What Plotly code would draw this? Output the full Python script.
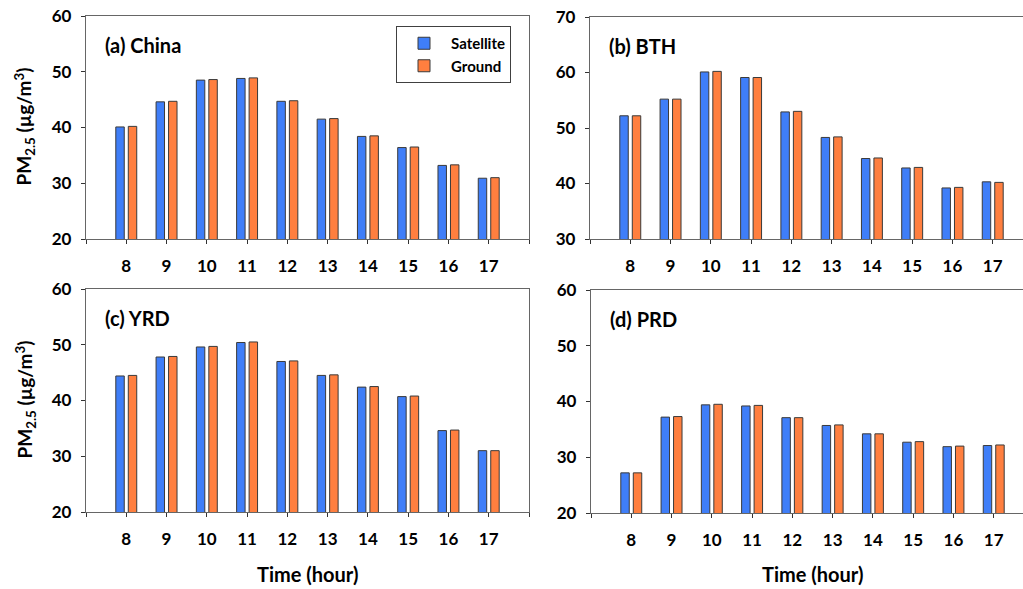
import plotly.graph_objects as go

hours = [8, 9, 10, 11, 12, 13, 14, 15, 16, 17]
tick_text = [str(h) for h in hours]

china_sat = [40.1, 44.6, 48.5, 48.8, 44.7, 41.5, 38.4, 36.4, 33.2, 30.9]
china_gnd = [40.2, 44.7, 48.6, 48.9, 44.8, 41.6, 38.5, 36.5, 33.3, 31.0]
bth_sat = [52.2, 55.2, 60.1, 59.1, 52.9, 48.3, 44.5, 42.8, 39.2, 40.3]
bth_gnd = [52.2, 55.2, 60.2, 59.1, 53.0, 48.4, 44.6, 42.9, 39.3, 40.2]
yrd_sat = [44.4, 47.8, 49.6, 50.4, 47.0, 44.5, 42.4, 40.7, 34.6, 31.0]
yrd_gnd = [44.5, 47.9, 49.7, 50.5, 47.1, 44.6, 42.5, 40.8, 34.7, 31.0]
prd_sat = [27.2, 37.2, 39.4, 39.2, 37.1, 35.7, 34.2, 32.7, 31.9, 32.1]
prd_gnd = [27.2, 37.3, 39.5, 39.3, 37.1, 35.8, 34.2, 32.8, 32.0, 32.2]

panels = [
    ("(a) China", china_sat, china_gnd, [20, 60]),
    ("(b) BTH", bth_sat, bth_gnd, [30, 70]),
    ("(c) YRD", yrd_sat, yrd_gnd, [20, 60]),
    ("(d) PRD", prd_sat, prd_gnd, [20, 60]),
]

W, H = 1023, 589
# pixel boxes: (left, right, top, bottom)
boxes = [(86, 529, 16, 239), (590, 1023, 17, 239), (86, 529, 289, 512), (591, 1023, 290, 513)]
UNIT = 443 / 11.0

BLUE = "#3F7EF8"
ORANGE = "#FF7F3F"
EDGE = "#3a3a3a"
AXIS = "#666666"
FONT = "Lato"

fig = go.Figure()
layout = dict(
    width=W, height=H, margin=dict(l=0, r=0, t=0, b=0, pad=0, autoexpand=False),
    paper_bgcolor="white", plot_bgcolor="white",
    barmode="overlay", showlegend=True,
    font=dict(family=FONT, size=16, color="black", weight="bold"),
    legend=dict(x=396 / W, y=1 - 26 / H, xanchor="left", yanchor="top",
                bordercolor="#404040", borderwidth=1, bgcolor="white",
                font=dict(family=FONT, size=15, color="black", weight="bold"),
                itemwidth=44, tracegroupgap=0),
)
annotations = []

for i, (label, sat, gnd, yr) in enumerate(panels):
    n = i + 1
    xa = "x" if n == 1 else f"x{n}"
    ya = "y" if n == 1 else f"y{n}"
    l, r, t, b = boxes[i]
    xmax = 7 + (r - l) / UNIT
    fig.add_trace(go.Bar(x=hours, y=sat, name="Satellite", xaxis=xa, yaxis=ya,
                         offset=-0.26, width=0.21, marker=dict(color=BLUE, line=dict(color=EDGE, width=1)),
                         showlegend=(n == 1), legendgroup="s"))
    fig.add_trace(go.Bar(x=hours, y=gnd, name="Ground", xaxis=xa, yaxis=ya,
                         offset=0.05, width=0.21, marker=dict(color=ORANGE, line=dict(color=EDGE, width=1)),
                         showlegend=(n == 1), legendgroup="g"))
    right_side = n in (2, 4)
    layout[f"xaxis{'' if n == 1 else n}"] = dict(
        domain=[l / W, min(r / W, 1.0)], anchor=ya, range=[7, xmax],
        tickmode="array", tickvals=hours, ticktext=tick_text,
        ticks="outside", ticklen=4, tickcolor="#333333", tickwidth=1,
        minor=dict(ticks="outside", ticklen=4, tick0=7, dtick=1, tickcolor="#333333", tickwidth=1, showgrid=False),
        showline=True, linecolor=AXIS, linewidth=1.3, mirror=True,
        showgrid=False, zeroline=False, ticklabelstandoff=7, automargin=False,
        tickfont=dict(family=FONT, size=17, color="black", weight="bold"),
    )
    layout[f"yaxis{'' if n == 1 else n}"] = dict(
        domain=[1 - b / H, 1 - t / H], anchor=xa, range=yr, dtick=10,
        ticks="outside", ticklen=4, tickcolor="#333333", tickwidth=1,
        showline=True, linecolor=AXIS, linewidth=1.3,
        mirror=(False if right_side else True),
        showgrid=False, zeroline=False, ticklabelstandoff=6, automargin=False,
        tickfont=dict(family=FONT, size=17, color="black", weight="bold"),
    )
    annotations.append(dict(text=label, x=(l + 17) / W, y=1 - (t + 29) / H, xref="paper", yref="paper",
                            xanchor="left", yanchor="middle", showarrow=False,
                            font=dict(family=FONT, size=20, color="black", weight="bold")))
    if n in (1, 3):
        annotations.append(dict(text="PM<sub>2.5</sub> (µg/m<sup>3</sup>)", x=25 / W, y=1 - ((t + b) / 2 - 1) / H,
                                xref="paper", yref="paper", textangle=-90, showarrow=False,
                                xanchor="center", yanchor="middle",
                                font=dict(family=FONT, size=19, color="black", weight="bold")))
    if n in (3, 4):
        annotations.append(dict(text="Time (hour)", x=(307 if n == 3 else 812) / W,
                                y=1 - 574 / H, xref="paper", yref="paper", showarrow=False,
                                xanchor="center", yanchor="middle",
                                font=dict(family=FONT, size=20, color="black", weight="bold")))

layout["annotations"] = annotations
fig.update_layout(**layout)
fig.write_html("out.html", config={"displayModeBar": False},
               post_script="document.body.style.margin='0';document.body.style.overflow='hidden';")
